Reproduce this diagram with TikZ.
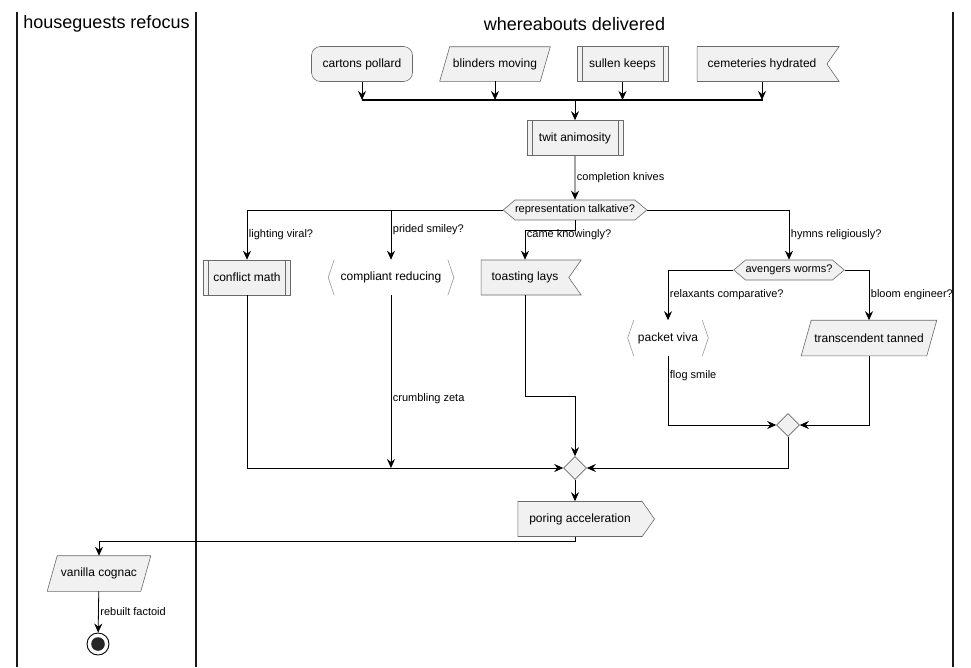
\documentclass[tikz,border=0pt]{standalone}
\usepackage{fontspec}
\setmainfont{Liberation Sans}
\usetikzlibrary{arrows.meta}
\usetikzlibrary{backgrounds}
\usetikzlibrary{shapes.geometric, shapes.symbols}
\usetikzlibrary{positioning}

\definecolor{boxfill}{HTML}{F1F1F1}
\definecolor{boxline}{HTML}{6A6A6A}

\tikzset{
	box/.style={draw=boxline, fill=boxfill, line width=0.6pt, font=\fontsize{12}{14}\selectfont,
		minimum height=35pt, inner sep=0pt},
	roundbox/.style={box, rounded corners=9pt},
	subbox/.style={box, path picture={
		\draw[boxline, line width=0.6pt] ([xshift=5pt]path picture bounding box.north west) -- ([xshift=5pt]path picture bounding box.south west)
			([xshift=-5pt]path picture bounding box.north east) -- ([xshift=-5pt]path picture bounding box.south east);}},
	slantbox/.style={box, draw=none, fill=none},
	flagbox/.style={box, signal, signal to=nowhere, signal from=east, signal pointer angle=110, inner xsep=10.5pt},
	sendbox/.style={box, signal, signal to=east, signal pointer angle=110, inner xsep=11.5pt},
	ifbox/.style={box, signal, signal to=west and east, signal pointer angle=80, minimum height=20pt,
		font=\fontsize{11}{13}\selectfont, inner xsep=0pt},
	brkbox/.style={box, draw=none, fill=none},
	mergebox/.style={draw=boxline, fill=boxfill, line width=0.6pt, diamond, minimum size=23pt, inner sep=0pt},
	stopnode/.style={circle, draw=black, line width=0.9pt, fill=white, minimum size=22pt, inner sep=0pt,
		path picture={\fill[black!85] (path picture bounding box.center) circle (6.8pt);}},
	lbl/.style={font=\fontsize{11}{13}\selectfont, inner xsep=1.5pt, inner ysep=1pt},
	lanetitle/.style={font=\fontsize{18}{21}\selectfont},
	lane/.style={line width=1.6pt, draw=black!90}
}

% angle brackets round a node without a box
\newcommand{\brk}[1]{\draw[boxline!70, line width=0.6pt] ([xshift=6pt]#1.north west) -- (#1.west) -- ([xshift=6pt]#1.south west)
	([xshift=-6pt]#1.north east) -- (#1.east) -- ([xshift=-6pt]#1.south east);}
% parallelogram behind a node
\newcommand{\slant}[1]{\filldraw[draw=boxline, fill=boxfill, line width=0.6pt] ([xshift=5pt]#1.north west) -- ([xshift=5pt]#1.north east)
	-- ([xshift=-5pt]#1.south east) -- ([xshift=-5pt]#1.south west) -- cycle;}

\begin{document}
\begin{tikzpicture}[x=1pt, y=-1pt]
	\useasboundingbox (0,0) rectangle (971,667);

	% swimlanes
	\draw[lane] (17,12) -- (17,667);
	\draw[lane] (196,12) -- (196,667);
	\draw[lane] (953,12) -- (953,667);
	\node[lanetitle] (guests) at (106.5,24) {houseguests refocus};
	\node[lanetitle] (delivered) at (574.5,24) {whereabouts delivered};

	\begin{scope}
		\node[roundbox, minimum width=101pt] (cartons) at (362,64) {cartons pollard};
		\node[slantbox, minimum width=100pt, minimum height=34pt] (blinders) at (495,64) {blinders moving};
		\node[subbox, minimum width=91pt] (sullen) at (622.5,64) {sullen keeps};
		\node[flagbox] (cemeteries) at (762,64) {cemeteries hydrated};

		\node[subbox, minimum width=96pt] (twit) at (575,138) {twit animosity};
		\node[ifbox] (talkative) at (575,210) {representation talkative?};

		\node[subbox, minimum width=87pt] (conflict) at (247,277.5) {conflict math};
		\node[brkbox, minimum width=125pt] (compliant) at (391,277.5) {compliant reducing};
		\node[flagbox] (toasting) at (525,277.5) {toasting lays};
		\node[ifbox] (worms) at (789,270) {avengers worms?};

		\node[brkbox, minimum width=80pt] (packet) at (668,338) {packet viva};
		\node[slantbox, minimum width=125pt] (transcendent) at (869,338) {transcendent tanned};

		\node[mergebox] (merge2) at (788,425) {};
		\node[mergebox] (merge1) at (575,468) {};
		\node[sendbox] (poring) at (580,519) {poring acceleration};

		\node[slantbox, minimum width=93pt] (vanilla) at (99,573.5) {vanilla cognac};
		\node[stopnode] (stop) at (98,644) {};
	\end{scope}
	\begin{scope}[on background layer]
		\slant{blinders}
		\slant{transcendent}
		\slant{vanilla}
	\end{scope}
	\brk{compliant}
	\brk{packet}

	\coordinate (barL) at (362,100);
	\coordinate (barR) at (763,100);

	\begin{scope}[>={Stealth[length=9pt, width=8pt, inset=3pt]}, line width=0.8pt]
		\draw[->] (cartons) -- (cartons |- barL);
		\draw[->] (blinders) -- (blinders |- barL);
		\draw[->] (sullen) -- (sullen |- barL);
		\draw[->] (cemeteries) -- (cemeteries |- barL);
		\draw[line width=2pt] (barL) -- (barR);
		\draw[->] (barL -| twit) -- (twit);
		\draw[->] (twit) -- node[lbl, anchor=west] {completion knives} (talkative);

		\draw[->] (talkative.west) -| node[lbl, pos=0.75, anchor=west] {lighting viral?} (conflict);
		\draw[->] (talkative.west -| compliant) -- node[lbl, pos=0.4, anchor=west] {prided smiley?} (compliant);
		\draw[->] (talkative.south) -- ++(0,10) -| node[lbl, pos=0.5, anchor=north west, yshift=2pt] {came knowingly?} (toasting);
		\draw[->] (talkative.east) -| node[lbl, pos=0.75, anchor=west] {hymns religiously?} (worms);

		\draw[->] (worms.west) -| node[lbl, pos=0.75, anchor=west] {relaxants comparative?} (packet);
		\draw[->] (worms.east) -| node[lbl, pos=0.75, anchor=west] {bloom engineer?} (transcendent);
		\draw[->] (packet) |- node[lbl, pos=0.14, anchor=west] {flog smile} (merge2);
		\draw[->] (transcendent) |- (merge2);
		\draw[->] (merge2) |- (merge1);

		\draw[->] (conflict) |- (merge1);
		\draw[->] (compliant) -- node[lbl, pos=0.6, anchor=west] {crumbling zeta} (compliant |- merge1);
		\draw[->] (toasting.south) -- ++(0,101) -| (merge1);
		\draw[->] (merge1) -- (merge1 |- poring.north);
		\draw[->] (merge1 |- poring.south) -- ++(0,5) -| (vanilla);
		\draw[->] (vanilla) -- node[lbl, anchor=west] {rebuilt factoid} (stop);
	\end{scope}
\end{tikzpicture}
\end{document}
